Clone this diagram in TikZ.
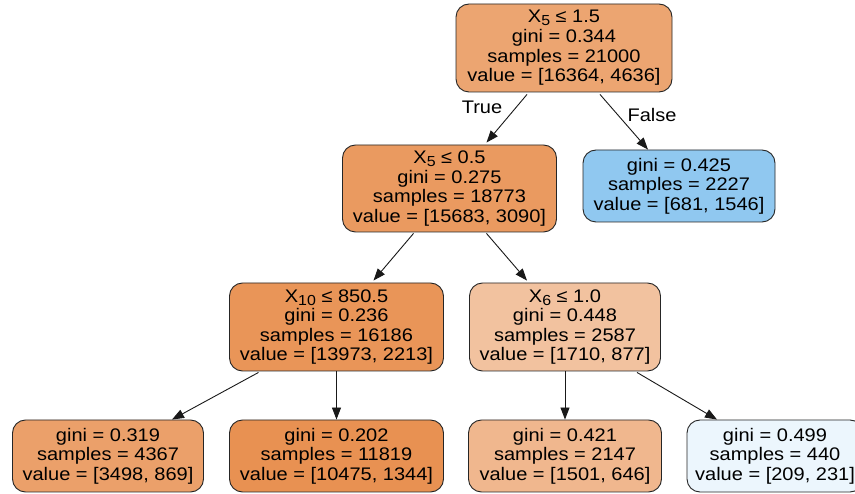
\documentclass[tikz,border=0pt]{standalone}
\usepackage{fontspec}
\setmainfont{Liberation Sans}[FakeStretch=1.1]
\usetikzlibrary{arrows.meta,calc}
\definecolor{cRoot}{RGB}{236,165,113}
\definecolor{cA}{RGB}{234,154,96}
\definecolor{cB}{RGB}{144,200,240}
\definecolor{cC}{RGB}{233,149,88}
\definecolor{cD}{RGB}{242,194,159}
\definecolor{cLa}{RGB}{235,160,106}
\definecolor{cLb}{RGB}{232,145,82}
\definecolor{cLc}{RGB}{240,183,142}
\definecolor{cLd}{RGB}{236,246,253}
\newcommand{\Xs}[1]{X\raisebox{-3pt}{\fontsize{14.5}{14.5}\selectfont #1}}
\begin{document}
\begin{tikzpicture}[x=1pt,y=-1pt,
  tnode/.style={draw=black!85, line width=0.9pt, rounded corners=13pt, align=center,
    inner sep=0pt, font=\fontsize{18.2}{19.6}\selectfont},
  edge/.style={-{Triangle[length=12pt,width=9pt]}, line width=0.9pt, black!90},
  elab/.style={font=\fontsize{18.2}{19.6}\selectfont, inner sep=0pt}]
\useasboundingbox (0,0) rectangle (855,494);
\clip (0,0) rectangle (855,494);
\fill[white] (0,0) rectangle (855,494);

\node[tnode, fill=cRoot, minimum width=216pt, minimum height=88pt] (root) at (564,48)
  {\Xs{5} ≤ 1.5\\gini = 0.344\\samples = 21000\\value = [16364, 4636]};
\node[tnode, fill=cA, minimum width=214pt, minimum height=87pt] (A) at (449.5,188.5)
  {\Xs{5} ≤ 0.5\\gini = 0.275\\samples = 18773\\value = [15683, 3090]};
\node[tnode, fill=cB, minimum width=192pt, minimum height=72pt] (B) at (679,186)
  {gini = 0.425\\samples = 2227\\value = [681, 1546]};
\node[tnode, fill=cC, minimum width=214pt, minimum height=88pt] (C) at (336.5,327)
  {\Xs{10} ≤ 850.5\\gini = 0.236\\samples = 16186\\value = [13973, 2213]};
\node[tnode, fill=cD, minimum width=191pt, minimum height=88pt] (D) at (565,327)
  {\Xs{6} ≤ 1.0\\gini = 0.448\\samples = 2587\\value = [1710, 877]};
\node[tnode, fill=cLa, minimum width=191pt, minimum height=72pt] (L1) at (108,456)
  {gini = 0.319\\samples = 4367\\value = [3498, 869]};
\node[tnode, fill=cLb, minimum width=214pt, minimum height=72pt] (L2) at (336.5,456)
  {gini = 0.202\\samples = 11819\\value = [10475, 1344]};
\node[tnode, fill=cLc, minimum width=193pt, minimum height=72pt] (L3) at (565,456)
  {gini = 0.421\\samples = 2147\\value = [1501, 646]};
\node[tnode, fill=cLd, minimum width=176pt, minimum height=72pt] (L4) at (775,456)
  {gini = 0.499\\samples = 440\\value = [209, 231]};

\node[elab] (tl) at (482,107) {True};
\node[elab] (fl) at (652,115) {False};

\draw[edge] ($(root.south)+(-37,2)$) -- ($(A.north)+(37,-2)$);
\draw[edge] ($(root.south)+(36,2)$) -- ($(B.north)+(-31,0)$);
\draw[edge] ($(A.south)+(-36,1)$) -- ($(C.north)+(37,-2)$);
\draw[edge] ($(A.south)+(37,1)$) -- ($(D.north)+(-38,-2)$);
\draw[edge] ($(C.south)+(-78,1)$) -- ($(L1.north)+(64,0)$);
\draw[edge] (C.south) -- (L2.north);
\draw[edge] (D.south) -- (L3.north);
\draw[edge] ($(D.south)+(72,1)$) -- ($(L4.north)+(-58,0)$);
\end{tikzpicture}
\end{document}
